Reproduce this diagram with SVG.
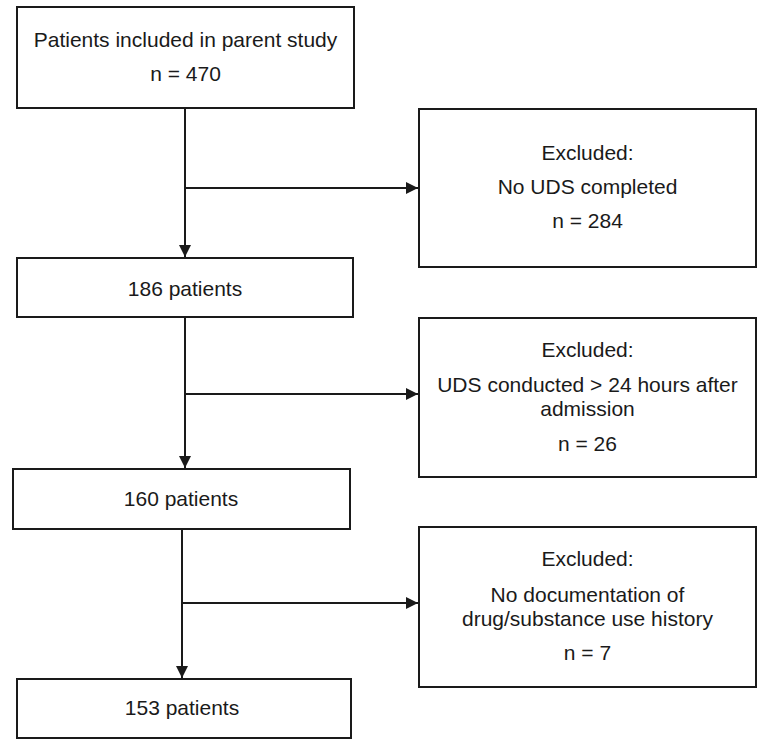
<svg xmlns="http://www.w3.org/2000/svg" width="765" height="744" viewBox="0 0 765 744">
<style>
.box{fill:#ffffff;stroke:#1a1a1a;stroke-width:2}
.t{font-family:"Liberation Sans",Arial,sans-serif;font-size:21px;fill:#1a1a1a;text-anchor:middle}
.c{fill:none;stroke:#1a1a1a;stroke-width:2}
</style>
<defs>
<marker id="ah" markerUnits="userSpaceOnUse" markerWidth="14" markerHeight="14" refX="12" refY="6" orient="auto">
<path d="M0,0 L12,6 L0,12 Z" fill="#1a1a1a"/>
</marker>
</defs>
<rect width="765" height="744" fill="#ffffff"/>
<g id="connectors">
<path class="c" d="M185,108 V257" marker-end="url(#ah)"/>
<path class="c" d="M185,188 H418" marker-end="url(#ah)"/>
<path class="c" d="M185,317 V468" marker-end="url(#ah)"/>
<path class="c" d="M185,394 H418" marker-end="url(#ah)"/>
<path class="c" d="M182,529 V678" marker-end="url(#ah)"/>
<path class="c" d="M182,603 H418" marker-end="url(#ah)"/>
</g>
<g id="n1">
<rect class="box" x="17" y="7" width="337" height="101"/>
<text class="t" x="185.5" y="47">Patients included in parent study</text>
<text class="t" x="185.5" y="81">n = 470</text>
</g>
<g id="e1">
<rect class="box" x="419" y="109" width="337" height="158"/>
<text class="t" x="587.5" y="160">Excluded:</text>
<text class="t" x="587.5" y="194">No UDS completed</text>
<text class="t" x="587.5" y="228">n = 284</text>
</g>
<g id="n2">
<rect class="box" x="17" y="258" width="336" height="59"/>
<text class="t" x="185" y="296">186 patients</text>
</g>
<g id="e2">
<rect class="box" x="419" y="318" width="337" height="159"/>
<text class="t" x="587.5" y="357">Excluded:</text>
<text class="t" x="587.5" y="392">UDS conducted &gt; 24 hours after</text>
<text class="t" x="587.5" y="416">admission</text>
<text class="t" x="587.5" y="451">n = 26</text>
</g>
<g id="n3">
<rect class="box" x="13" y="469" width="337" height="60"/>
<text class="t" x="181" y="506">160 patients</text>
</g>
<g id="e3">
<rect class="box" x="419" y="527" width="337" height="160"/>
<text class="t" x="587.5" y="566">Excluded:</text>
<text class="t" x="587.5" y="602">No documentation of</text>
<text class="t" x="587.5" y="626">drug/substance use history</text>
<text class="t" x="587.5" y="660">n = 7</text>
</g>
<g id="n4">
<rect class="box" x="17" y="679" width="334" height="59"/>
<text class="t" x="182" y="715">153 patients</text>
</g>
</svg>
